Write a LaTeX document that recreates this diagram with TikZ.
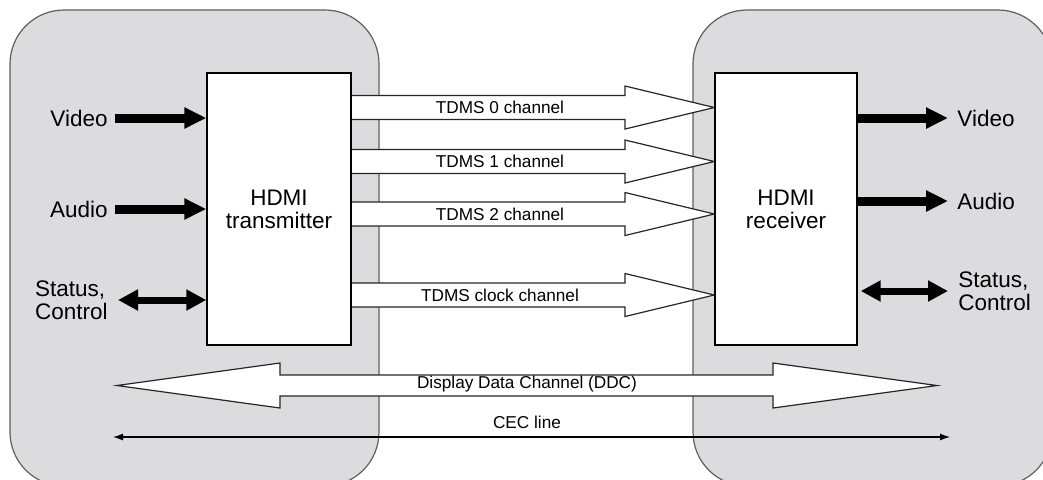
\documentclass[tikz,border=0pt]{standalone}
\usepackage{fontspec}
\setmainfont{Liberation Sans}
\usetikzlibrary{arrows.meta,calc}
\definecolor{panelgray}{RGB}{220,220,222}
\definecolor{panelline}{RGB}{95,95,95}
\newcommand\hbig{\fontsize{11.25pt}{11.6pt}\selectfont}
\newcommand\hsmall{\fontsize{8.6pt}{10pt}\selectfont}
\pgfdeclarelayer{bg}
\pgfsetlayers{bg,main}
\tikzset{
  panel/.style={fill=panelgray, draw=panelline, line width=0.6pt, rounded corners=27pt},
  chip/.style={draw=black, fill=white, line width=0.7pt, minimum width=72pt, minimum height=136pt, align=center, font=\hbig, inner sep=0pt},
  biglbl/.style={font=\hbig, inner sep=0pt, align=left},
  smalllbl/.style={font=\hsmall, inner sep=0pt},
  fat/.style={line width=4.5pt, -{Triangle[length=11pt,width=10pt]}},
  fatboth/.style={line width=3.5pt, {Triangle[length=10pt,width=10pt]}-{Triangle[length=10pt,width=10pt]}},
  hollow/.style={fill=white, draw=black!85, line width=0.6pt, line join=miter},
  cecline/.style={line width=0.6pt, {Latex[length=5pt,width=3.5pt]}-{Latex[length=5pt,width=3.5pt]}}
}
\begin{document}
\begin{tikzpicture}[x=0.5pt,y=-0.5pt]
\useasboundingbox (0,0) rectangle (1043,479);
\clip (0,0) rectangle (1043,479);
% chips
\node[chip] (tx) at (279,209) {HDMI\\transmitter};
\node[chip, minimum width=71pt] (rx) at (786,209) {HDMI\\receiver};
\begin{pgfonlayer}{bg}
  \path[panel] (10,10) rectangle (379,486);
  \path[panel] (693,10) rectangle (1052,486);
  \foreach \c/\lab [count=\i] in {107.5/TDMS 0 channel, 161.5/TDMS 1 channel, 214/TDMS 2 channel, 295/TDMS clock channel}{
    \pgfmathsetmacro\yst{\c-12}
    \pgfmathsetmacro\ysb{\c+12}
    \pgfmathsetmacro\yht{\c-21.5}
    \pgfmathsetmacro\yhb{\c+21.5}
    \coordinate (tip\i) at (rx.west |- 0,\c);
    \draw[hollow] (tx.east |- 0,\yst) -- (625,\yst) -- (625,\yht) -- (tip\i) -- (625,\yhb) -- (625,\ysb) -- (tx.east |- 0,\ysb);
    \node[smalllbl] (ch\i) at (500,\c) {\lab};
  }
  % DDC
  \coordinate (ddcL) at (117,385.5);
  \coordinate (ddcR) at (937,385.5);
  \draw[hollow] (ddcL) -- (280,363) -- (280,375) -- (773,375) -- (773,363) -- (ddcR) -- (773,408) -- (773,396) -- (280,396) -- (280,408) -- cycle;
  \node[smalllbl] (ddc) at (527,384) {Display Data Channel (DDC)};
  % CEC
  \coordinate (cecL) at (113,437);
  \coordinate (cecR) at (950,437);
  \draw[cecline] (cecL) -- (cecR);
  \node[smalllbl] (cec) at (527,422) {CEC line};
\end{pgfonlayer}
% left side
\node[biglbl, anchor=east] (vin) at (108,118) {Video};
\node[biglbl, anchor=east] (ain) at (108,209) {Audio};
\node[biglbl, anchor=east] (sin) at (108,300) {Status,\\Control};
\draw[fat] ([xshift=3.5pt]vin.east) -- (vin.east -| tx.west);
\draw[fat] ([xshift=3.5pt]ain.east) -- (ain.east -| tx.west);
\draw[fatboth] ([xshift=5pt]sin.east) -- (sin.east -| tx.west);
% right side
\node[biglbl, anchor=west] (vout) at (957,118) {Video};
\node[biglbl, anchor=west] (aout) at (957,201) {Audio};
\node[biglbl, anchor=west] (sout) at (958,291) {Status,\\Control};
\draw[fat] (vout.west -| rx.east) -- ([xshift=-4.5pt]vout.west);
\draw[fat] (aout.west -| rx.east) -- ([xshift=-4.5pt]aout.west);
\draw[fatboth] ([xshift=1.5pt]rx.east |- sout.west) -- ([xshift=-5pt]sout.west);
\end{tikzpicture}
\end{document}
